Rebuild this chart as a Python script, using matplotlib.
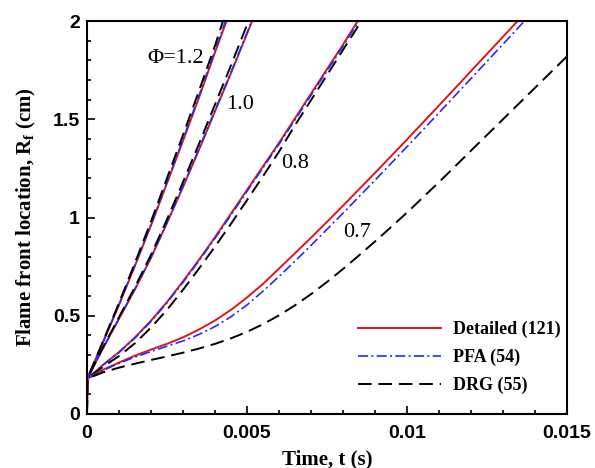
import matplotlib
matplotlib.use("Agg")
import matplotlib.pyplot as plt
from matplotlib.ticker import MultipleLocator, FixedFormatter, FixedLocator

# ---------------- data ----------------
# Phi = 1.2  (t in s, R in cm)
t12 = [0, 0.00001, 0.0005, 0.001, 0.0015, 0.002, 0.0025, 0.003, 0.0035, 0.004]
r12_det = [0, 0.18, 0.365, 0.555, 0.755, 0.96, 1.175, 1.39, 1.61, 1.84]
r12_pfa = [0, 0.18, 0.366, 0.557, 0.758, 0.965, 1.18, 1.397, 1.62, 1.85]
r12_drg = [0, 0.18, 0.37, 0.565, 0.77, 0.98, 1.20, 1.42, 1.645, 1.875]
t12_end = [0.00436, 0.00433, 0.00425]

# Phi = 1.0
t10 = [0, 0.00001, 0.0005, 0.001, 0.0015, 0.002, 0.0025, 0.003, 0.0035, 0.004, 0.0045, 0.005]
r10_det = [0, 0.18, 0.335, 0.485, 0.635, 0.795, 0.972, 1.155, 1.345, 1.54, 1.735, 1.935]
r10_pfa = [0, 0.18, 0.335, 0.486, 0.637, 0.797, 0.975, 1.158, 1.35, 1.545, 1.74, 1.94]
r10_drg = [0, 0.18, 0.34, 0.493, 0.647, 0.81, 0.99, 1.18, 1.375, 1.575, 1.775, 1.98]
t10_end = [0.00516, 0.00515, 0.00505]

# Phi = 0.8
t08 = [0, 0.00001, 0.0005, 0.001, 0.0015, 0.002, 0.0025, 0.003, 0.0035, 0.004,
       0.0045, 0.005, 0.0055, 0.006, 0.0065, 0.007, 0.0075, 0.008, 0.0085]
r08_det = [0, 0.18, 0.25, 0.315, 0.39, 0.475, 0.57, 0.675, 0.785, 0.90,
           1.02, 1.14, 1.26, 1.38, 1.505, 1.63, 1.755, 1.88, None]
r08_pfa = [0, 0.18, 0.249, 0.313, 0.387, 0.471, 0.566, 0.67, 0.78, 0.894,
           1.013, 1.133, 1.253, 1.373, 1.497, 1.622, 1.747, 1.872, None]
r08_drg = [0, 0.18, 0.24, 0.295, 0.36, 0.44, 0.53, 0.632, 0.74, 0.852,
           0.968, 1.088, 1.21, 1.335, 1.47, 1.597, 1.725, 1.853, 1.98]
t08_end = [0.00846, 0.0085, 0.00858]

# Phi = 0.7
t07 = [0, 0.00001, 0.0005, 0.001, 0.0015, 0.002, 0.0025, 0.003, 0.0035, 0.004,
       0.0045, 0.005, 0.0055, 0.006, 0.0065, 0.007, 0.0075, 0.008,
       0.009, 0.010, 0.011, 0.012, 0.013]
r07_det = [0, 0.18, 0.225, 0.262, 0.297, 0.328, 0.357, 0.39, 0.43, 0.476,
           0.53, 0.593, 0.662, 0.74, 0.818, 0.897, 0.978, 1.06,
           1.227, 1.397, 1.57, 1.745, 1.92]
r07_pfa = [0, 0.18, 0.222, 0.258, 0.29, 0.318, 0.345, 0.372, 0.405, 0.445,
           0.495, 0.555, 0.625, 0.70, 0.778, 0.858, 0.94, 1.022,
           1.19, 1.36, 1.533, 1.707, 1.882]
t07_end = [0.01346, 0.01367]
t07_drg = [0, 0.00001, 0.0005, 0.001, 0.0015, 0.002, 0.0025, 0.003, 0.0035, 0.004,
           0.0045, 0.005, 0.0055, 0.006, 0.0065, 0.007, 0.0075, 0.008, 0.0085,
           0.009, 0.0095, 0.010, 0.011, 0.012, 0.013, 0.014, 0.015]
r07_drg = [0, 0.18, 0.212, 0.236, 0.256, 0.275, 0.293, 0.312, 0.333, 0.357,
           0.385, 0.418, 0.457, 0.502, 0.553, 0.61, 0.672, 0.738, 0.807,
           0.878, 0.951, 1.025, 1.18, 1.34, 1.50, 1.66, 1.82]

labels = ["Detailed (121)", "PFA (54)", "DRG (55)"]
phi_labels = ["\u03a6=1.2", "1.0", "0.8", "0.7"]
phi_label_pos = [(0.00278, 1.81), (0.00478, 1.573), (0.0065, 1.275), (0.00844, 0.926)]

xticks = [0, 0.005, 0.01, 0.015]
xticklabels = ["0", "0.005", "0.01", "0.015"]
yticks = [0, 0.5, 1, 1.5, 2]
yticklabels = ["0", "0.5", "1", "1.5", "2"]

# ---------------- plot ----------------
fig = plt.figure(figsize=(5.95, 4.68), dpi=100)
ax = fig.add_axes([87 / 595, 1 - 414 / 468, 480 / 595, 393 / 468])

red = "#e0141e"
blue = "#1f2cff"
styles = [
    dict(color=red, lw=1.4, ls="-"),
    dict(color=blue, lw=1.2, ls=(0, (6, 2, 1.2, 2))),
    dict(color="black", lw=1.4, ls=(0, (7, 3.5))),
]


def full(t, r, tend):
    pts = [(a, b) for a, b in zip(t, r) if b is not None]
    return [p[0] for p in pts] + [tend], [p[1] for p in pts] + [2.0]


groups = [
    (t12, [r12_det, r12_pfa, r12_drg], t12_end),
    (t10, [r10_det, r10_pfa, r10_drg], t10_end),
    (t08, [r08_det, r08_pfa, r08_drg], t08_end),
]

handles = [None, None, None]
for t, rs, ends in groups:
    for i in range(3):
        x, y = full(t, rs[i], ends[i])
        h, = ax.plot(x, y, **styles[i])
        handles[i] = h

x, y = full(t07, r07_det, t07_end[0])
ax.plot(x, y, **styles[0])
x, y = full(t07, r07_pfa, t07_end[1])
ax.plot(x, y, **styles[1])
ax.plot(t07_drg, r07_drg, **styles[2])

for lab, (px, py) in zip(phi_labels, phi_label_pos):
    ax.text(px, py, lab, fontsize=16, family="Liberation Serif",
            ha="center", va="center")

ax.set_xlim(0, 0.015)
ax.set_ylim(0, 2)
ax.xaxis.set_major_locator(FixedLocator(xticks))
ax.xaxis.set_major_formatter(FixedFormatter(xticklabels))
ax.yaxis.set_major_locator(FixedLocator(yticks))
ax.yaxis.set_major_formatter(FixedFormatter(yticklabels))
ax.xaxis.set_minor_locator(MultipleLocator(0.001))
ax.yaxis.set_minor_locator(MultipleLocator(0.1))
ax.tick_params(which="both", direction="in", top=False, right=False, width=1.2)
ax.tick_params(which="major", length=6)
ax.tick_params(which="minor", length=3)
ax.tick_params(axis="x", which="major", pad=8)
ax.tick_params(axis="y", which="major", pad=5)
for lbl in ax.get_xticklabels() + ax.get_yticklabels():
    lbl.set_fontfamily("Liberation Sans")
    lbl.set_fontweight("bold")
    lbl.set_fontsize(14)
for s in ax.spines.values():
    s.set_linewidth(1.5)

plt.rcParams["mathtext.default"] = "regular"
ax.set_xlabel("Time, t (s)", fontsize=15, family="Liberation Serif",
              fontweight="bold", labelpad=5)
ax.set_ylabel("Flame front location, R$_{f}$ (cm)", fontsize=15,
              family="Liberation Serif", fontweight="bold", labelpad=11)

leg = ax.legend(handles, labels, loc="lower left",
                bbox_to_anchor=(0.565, 0.05), frameon=False,
                handlelength=4.6, handletextpad=0.65, labelspacing=0.6,
                borderpad=0, borderaxespad=0,
                prop=dict(family="Liberation Serif", weight="bold", size=13))

fig.savefig("out.png", dpi=100)
